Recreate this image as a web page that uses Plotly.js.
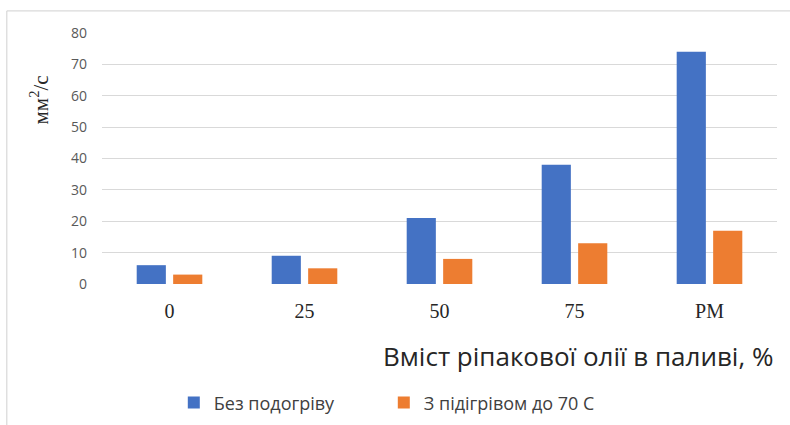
<!DOCTYPE html>
<html>
<head>
<meta charset="utf-8">
<script src="https://cdn.plot.ly/plotly-3.0.1.min.js"></script>
<style>html,body{margin:0;padding:0;background:#fff;}#chart{width:790px;height:425px;}</style>
</head>
<body>
<div id="chart"></div>
<script>
const categories = ["0", "25", "50", "75", "PM"];
const seriesNames = ["Без подогріву", "З підігрівом до 70 С"];
const noHeating = [6, 9, 21, 38, 74];
const heated70 = [3, 5, 8, 13, 17];
const yTicks = [0, 10, 20, 30, 40, 50, 60, 70, 80];

const traces = [
  {type: "bar", name: seriesNames[0], x: categories, y: noHeating, marker: {color: "#4472C4"}},
  {type: "bar", name: seriesNames[1], x: categories, y: heated70, marker: {color: "#ED7D31"}}
];

const layout = {
  width: 790, height: 425,
  margin: {l: 102, r: 13, t: 33, b: 141, autoexpand: false},
  paper_bgcolor: "#fff", plot_bgcolor: "#fff",
  barmode: "group", bargap: 0.46, bargroupgap: 0.2,
  showlegend: true,
  legend: {orientation: "h", xref: "container", yref: "container", x: 0.22, y: 0.052,
           xanchor: "left", yanchor: "middle", entrywidth: 165, entrywidthmode: "pixels",
           font: {family: "Open Sans, Liberation Sans, sans-serif", size: 18, color: "#404040"},
           itemwidth: 30, traceorder: "normal"},
  xaxis: {type: "category", showgrid: false, zeroline: false, showline: false, ticks: "",
          ticklabelstandoff: 13, automargin: false,
          tickfont: {family: "Liberation Serif, Times New Roman, serif", size: 20, color: "#262626"}},
  yaxis: {range: [0, 80], tickvals: yTicks, showgrid: true, gridcolor: "#d9d9d9", gridwidth: 1,
          zeroline: false, showline: false, ticks: "", ticklabelstandoff: 14, automargin: false,
          tickfont: {family: "Open Sans, Liberation Sans, sans-serif", size: 14, color: "#595959"}},
  annotations: [
    {text: "Вміст ріпакової олії в паливі, %", xref: "paper", yref: "paper", x: 0.705, y: -0.285,
     xanchor: "center", yanchor: "middle", showarrow: false,
     font: {family: "Open Sans, Liberation Sans, sans-serif", size: 26, color: "#262626"}},
    {text: "мм<sup>2</sup>/с", xref: "paper", yref: "paper", x: -0.092, y: 0.735, textangle: -90,
     xanchor: "center", yanchor: "middle", showarrow: false,
     font: {family: "Liberation Serif, Times New Roman, serif", size: 21, color: "#262626"}}
  ],
  shapes: [
    {type: "line", xref: "paper", yref: "paper", x0: -0.141, x1: 1.03, y0: 1.088, y1: 1.088,
     line: {color: "#d0d0d0", width: 1}},
    {type: "line", xref: "paper", yref: "paper", x0: -0.141, x1: -0.141, y0: -0.57, y1: 1.088,
     line: {color: "#d0d0d0", width: 1}}
  ]
};

Plotly.newPlot("chart", traces, layout, {displayModeBar: false, staticPlot: true});
</script>
</body>
</html>
